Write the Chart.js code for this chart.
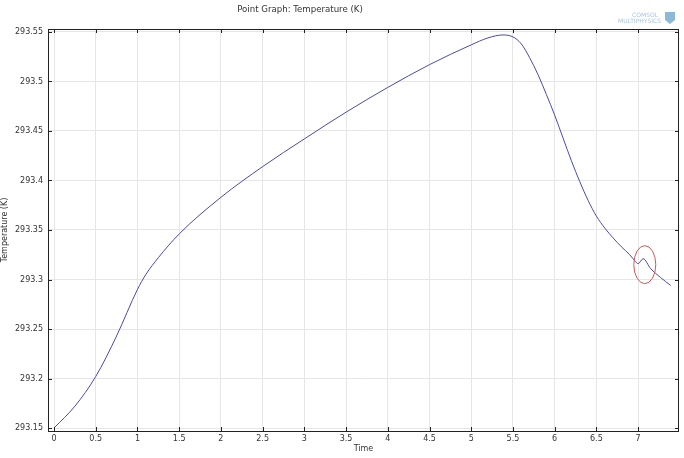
<!DOCTYPE html>
<html>
<head>
<meta charset="utf-8">
<script src="https://cdn.jsdelivr.net/npm/chart.js@4/dist/chart.umd.min.js"></script>
<style>
  html, body { margin: 0; padding: 0; background: #fff; }
</style>
</head>
<body>
<canvas id="chart" width="684" height="458"></canvas>
<script>
// time (x) and temperature in K (y)
const times = [0, 0.25, 0.5, 0.75, 1.0, 1.1, 1.25, 1.5, 2.0, 2.5, 3.0, 3.5, 4.0, 4.5, 5.0, 5.2, 5.38,
  5.5, 5.6, 5.7, 5.8, 5.9, 6.0, 6.1, 6.2, 6.3, 6.4, 6.5, 6.6, 6.7, 6.8, 6.9, 6.97, 7.0, 7.06, 7.15,
  7.27, 7.39];
const temps = [293.150, 293.172, 293.202, 293.243, 293.290, 293.305, 293.322, 293.346, 293.383,
  293.414, 293.442, 293.469, 293.494, 293.517, 293.537, 293.544, 293.547, 293.545, 293.538, 293.524,
  293.507, 293.487, 293.466, 293.443, 293.420, 293.399, 293.380, 293.364, 293.352, 293.342, 293.333,
  293.325, 293.318, 293.316, 293.321, 293.311, 293.302, 293.294];

const xTicks = [0, 0.5, 1, 1.5, 2, 2.5, 3, 3.5, 4, 4.5, 5, 5.5, 6, 6.5, 7];
const yTicks = [293.15, 293.2, 293.25, 293.3, 293.35, 293.4, 293.45, 293.5, 293.55];

const titleText = 'Point Graph: Temperature (K)';
const xTitle = 'Time';
const yTitle = 'Temperature (K)';
// spot circled in red on the original
const marked = { t: 7.08, T: 293.315 };

const font = 'DejaVu Sans, Verdana, sans-serif';
const textColor = '#333';

const points = times.map((t, i) => ({ x: t, y: temps[i] }));

const frame = {
  id: 'frame',
  afterDraw(chart) {
    const ctx = chart.ctx;
    const a = chart.chartArea;
    const xs = chart.scales.x, ys = chart.scales.y;
    ctx.save();
    ctx.strokeStyle = '#222';
    ctx.lineWidth = 1;
    ctx.strokeRect(Math.round(a.left) + 0.5, Math.round(a.top) + 0.5,
      Math.round(a.width) - 1, Math.round(a.height));

    // inward ticks on all four sides
    ctx.beginPath();
    xTicks.forEach(v => {
      const px = Math.round(xs.getPixelForValue(v)) + 0.5;
      ctx.moveTo(px, a.bottom); ctx.lineTo(px, a.bottom - 4);
      ctx.moveTo(px, a.top); ctx.lineTo(px, a.top + 4);
    });
    yTicks.forEach(v => {
      const py = Math.round(ys.getPixelForValue(v)) + 0.5;
      ctx.moveTo(a.left, py); ctx.lineTo(a.left + 4, py);
      ctx.moveTo(a.right, py); ctx.lineTo(a.right - 4, py);
    });
    ctx.stroke();

    // red ellipse
    ctx.strokeStyle = '#c85a5a';
    ctx.beginPath();
    ctx.ellipse(xs.getPixelForValue(marked.t), ys.getPixelForValue(marked.T), 11, 19, 0, 0, Math.PI * 2);
    ctx.stroke();

    // title
    ctx.fillStyle = textColor;
    ctx.font = '8.6px ' + font;
    ctx.textAlign = 'center';
    ctx.textBaseline = 'middle';
    ctx.fillText(titleText, 300, 10);

    // faint logo
    ctx.fillStyle = '#a8c6dc';
    ctx.font = '6px ' + font;
    ctx.textAlign = 'right';
    ctx.fillText('COMSOL', 658, 15);
    ctx.fillText('MULTIPHYSICS', 661, 21);
    ctx.fillStyle = '#8db8d8';
    ctx.beginPath();
    ctx.moveTo(665, 12); ctx.lineTo(675, 12); ctx.lineTo(675, 20);
    ctx.lineTo(670, 24); ctx.lineTo(665, 20); ctx.closePath();
    ctx.fill();
    ctx.restore();
  }
};

new Chart(document.getElementById('chart'), {
  type: 'line',
  data: {
    datasets: [{
      data: points,
      borderColor: '#4a4aa8',
      borderWidth: 1,
      pointRadius: 0,
      fill: false,
      cubicInterpolationMode: 'monotone'
    }]
  },
  options: {
    responsive: false,
    animation: false,
    layout: { padding: { top: 29, right: 5, left: 0, bottom: 0 } },
    plugins: { legend: { display: false }, tooltip: { enabled: false } },
    scales: {
      x: {
        type: 'linear',
        min: -0.072,
        max: 7.49,
        afterBuildTicks: s => { s.ticks = xTicks.map(v => ({ value: v })); },
        afterFit: s => { s.height = 27; },
        grid: { color: '#e6e6e6', drawTicks: false },
        border: { display: false },
        ticks: {
          padding: 3,
          color: textColor,
          font: { family: font, size: 8 },
          maxRotation: 0,
          autoSkip: false,
          callback: v => String(v)
        },
        title: {
          display: true, text: xTitle, color: textColor,
          font: { family: font, size: 8 }, padding: { top: 4, bottom: 4 }
        }
      },
      y: {
        type: 'linear',
        min: 293.147,
        max: 293.553,
        afterBuildTicks: s => { s.ticks = yTicks.map(v => ({ value: v })); },
        afterFit: s => { s.width = 48; },
        grid: { color: '#e6e6e6', drawTicks: false },
        border: { display: false },
        ticks: {
          padding: 5,
          color: textColor,
          font: { family: font, size: 8 },
          autoSkip: false,
          callback: v => String(Number(v.toFixed(2)))
        },
        title: {
          display: true, text: yTitle, color: textColor,
          font: { family: font, size: 8 }, padding: { top: 0, bottom: 0 }
        }
      }
    }
  },
  plugins: [frame]
});
</script>
</body>
</html>
